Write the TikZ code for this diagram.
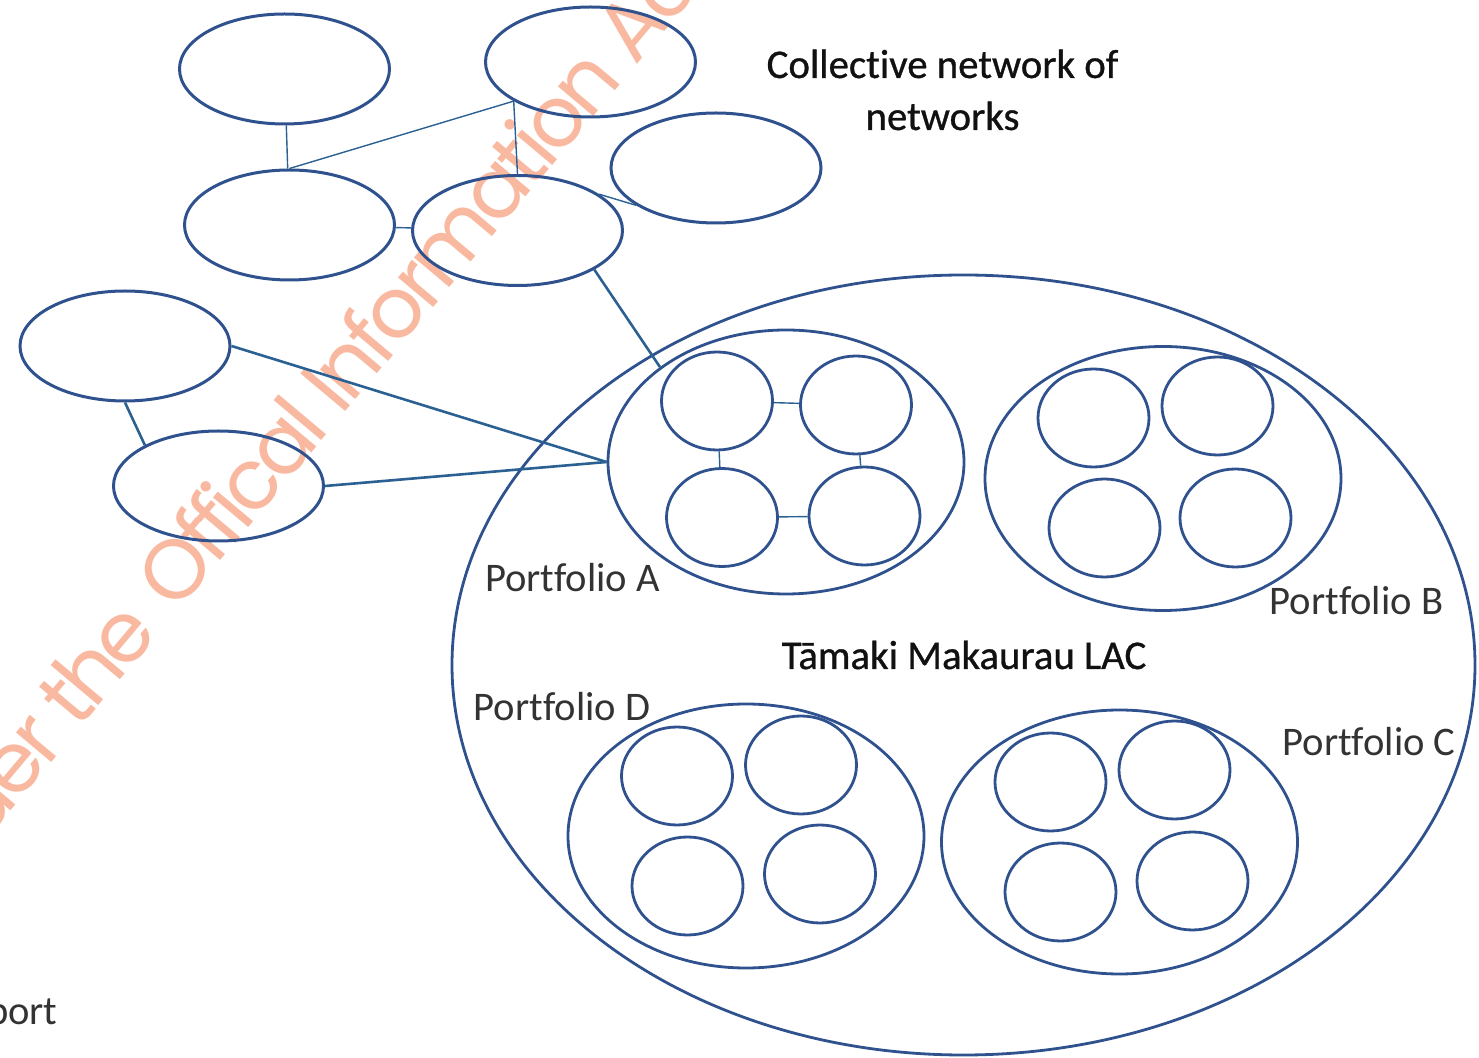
\documentclass[tikz,border=0pt]{standalone}
\usepackage{fontspec}
\setmainfont[Ligatures=NoCommon]{Carlito}
\newfontfamily\headfont[Ligatures=NoCommon,FakeBold=0.8]{Carlito}
\newfontfamily\stampfont[LetterSpace=-6]{Poppins}
\usetikzlibrary{shapes.geometric}
\definecolor{ring}{HTML}{2F528F}
\definecolor{link}{HTML}{2A6092}
\definecolor{stamp}{HTML}{F9B9A0}
\definecolor{ink}{HTML}{333333}
\definecolor{headink}{HTML}{111111}

\begin{document}
\begin{tikzpicture}[x=0.5pt,y=-0.5pt,
  net/.style={ellipse, draw=ring, line width=1.5pt, inner sep=0pt,
    minimum width=105pt, minimum height=55pt},
  member/.style={ellipse, draw=ring, line width=1.4pt, inner sep=0pt,
    minimum width=55.5pt, minimum height=49pt},
  portfolio/.style={ellipse, draw=ring, line width=1.4pt, inner sep=0pt,
    minimum width=178pt, minimum height=132pt},
  lac/.style={ellipse, draw=ring, line width=1.4pt, inner sep=0pt,
    minimum width=511.5pt, minimum height=390pt},
  thinlink/.style={draw=link, line width=0.7pt},
  thicklink/.style={draw=link, line width=1.3pt},
  caption/.style={font=\fontsize{20.3}{24}\selectfont, text=ink, inner sep=0pt, anchor=base},
  heading/.style={font=\headfont\fontsize{20.4}{24}\selectfont, text=headink, inner sep=0pt, anchor=base},
  stamptext/.style={font=\stampfont\fontsize{42}{50}\selectfont, text=stamp,
    rotate=50, inner sep=0pt}
]
\useasboundingbox (0,0) rectangle (1479,1058);

% diagonal release stamp
\node[stamptext, anchor=base west] (st2) at (176,614) {Offical Information Act};
\node[stamptext, anchor=base east] (st1) at (st2.base west) {Released under the\hspace{0.3em}\mbox{}};

% collective network of networks
\node[net] (n1) at (284.5,69) {};
\node[net] (n2) at (590.5,62) {};
\node[net] (n3) at (716,168) {};
\node[net] (n4) at (289.5,225) {};
\node[net] (n5) at (517.5,230.5) {};
\node[net] (n6) at (125,346) {};
\node[net] (n7) at (218.5,486) {};

% Tamaki Makaurau LAC and its portfolios
\node[lac] (lac) at (963.5,665) {};
\node[portfolio] (pa) at (786,462) {};
\node[portfolio] (pb) at (1163,478.5) {};
\node[portfolio] (pc) at (1119.5,842) {};
\node[portfolio] (pd) at (746,836) {};

\node[member] (a1) at (717,401) {};
\node[member] (a2) at (856,405) {};
\node[member] (a3) at (722,517.5) {};
\node[member] (a4) at (864.5,516) {};

\node[member] (b1) at (1093.5,418) {};
\node[member] (b2) at (1217.5,406) {};
\node[member] (b3) at (1104.5,528) {};
\node[member] (b4) at (1235.5,518) {};

\node[member] (c1) at (1050.5,782) {};
\node[member] (c2) at (1174.5,770) {};
\node[member] (c3) at (1060.5,892) {};
\node[member] (c4) at (1192.5,881) {};

\node[member] (d1) at (677,776) {};
\node[member] (d2) at (801,765) {};
\node[member] (d3) at (687.5,886) {};
\node[member] (d4) at (820,874) {};

% links between networks
\coordinate (hub) at (n2.207.6);
\draw[thinlink] (n1) -- (n4);
\draw[thinlink] (n4.north) -- (hub);
\draw[thinlink] (hub) -- (n5.north);
\draw[thinlink] (n4) -- (n5);
\draw[thinlink] (n5.24) -- (n3.205);
\draw[thicklink] (n6.south) -- (n7.151);
\draw[thicklink] (n5.333.6) -- (pa.143.4);
\draw[thicklink] (n6.east) -- (pa.west);
\draw[thicklink] (n7.east) -- (pa.west);

% links inside portfolio A
\draw[thinlink] (a1) -- (a2);
\draw[thinlink] (a1) -- (a3);
\draw[thinlink] (a2) -- (a4);
\draw[thinlink] (a3) -- (a4);

% labels
\node[heading] (t1) at (942.5,78) {Collective network of};
\node[heading] (t2) at (942.5,130) {networks};
\node[heading] (tl) at (964,669) {Tāmaki Makaurau LAC};
\node[caption] (la) at (572.5,592) {Portfolio A};
\node[caption] (lb) at (1356.5,615) {Portfolio B};
\node[caption] (lc) at (1369,756) {Portfolio C};
\node[caption] (ld) at (562,721) {Portfolio D};
\node[caption, anchor=base east] (rp) at (58,1024) {port};
\end{tikzpicture}
\end{document}
